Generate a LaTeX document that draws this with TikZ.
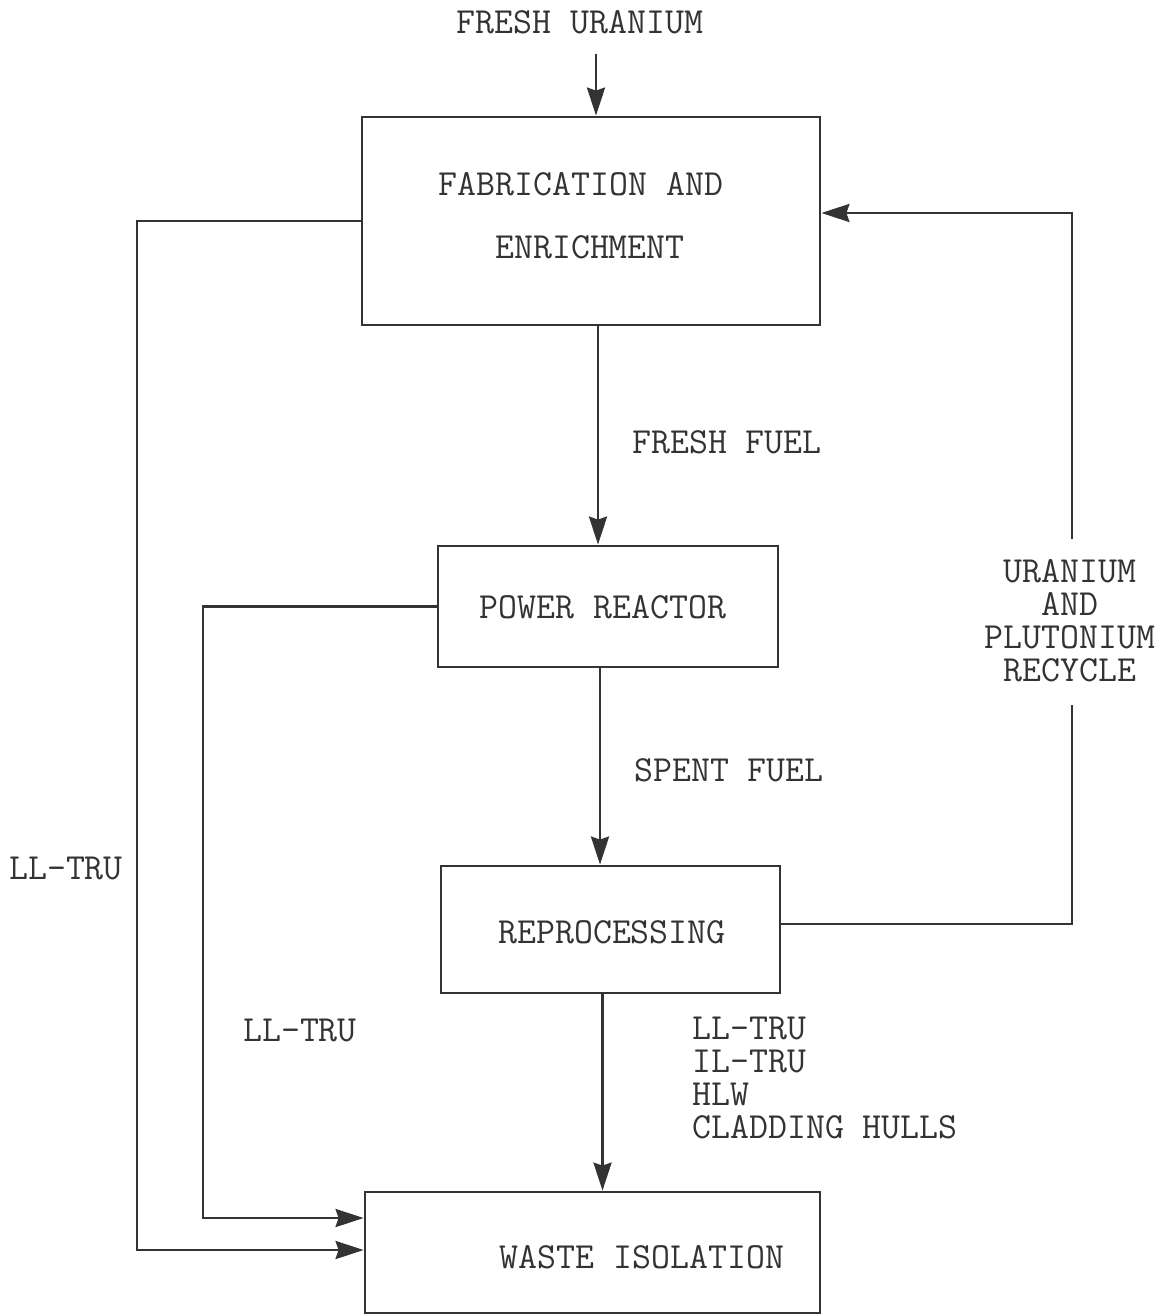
\documentclass[tikz,border=0pt]{standalone}
\usepackage{fontspec}
\usepackage{tikz}
\usetikzlibrary{arrows.meta,positioning,calc}
\definecolor{ink}{HTML}{333333}

\tikzset{
  box/.style={draw=ink, text=ink, line width=1.4pt, align=center, inner sep=0pt},
  lbl/.style={text=ink, align=center, inner sep=1pt},
  wire/.style={draw=ink, line width=1.4pt},
  flow/.style={wire, -{Stealth[length=14pt,width=9pt,inset=1.5pt]}}
}

\begin{document}
\begin{tikzpicture}[x=0.5pt,y=-0.5pt,font=\ttfamily\fontsize{18.4}{16.5}\selectfont]
  \useasboundingbox (0,0) rectangle (1161,1315);
  % boxes
  \node[box, minimum width=229pt, minimum height=104pt] (fab) at (591,221) {};
  \node[lbl] (fabtxt) at (581,216) {FABRICATION AND\\[15pt]\hspace*{9pt}ENRICHMENT};
  \node[box, minimum width=170pt, minimum height=60.5pt] (reactor) at (608,606.5) {};
  \node[lbl] (reactortxt) at (603,607) {POWER REACTOR};
  \node[box, minimum width=169.5pt, minimum height=63.5pt] (reproc) at (610.5,929.5) {};
  \node[lbl] (reproctxt) at (612,932) {REPROCESSING};
  \node[box, minimum width=227.5pt, minimum height=60.5pt] (waste) at (592.5,1252.5) {};
  \node[lbl] (wastetxt) at (642,1257) {WASTE ISOLATION};
  % labels
  \node[lbl] (uran) at (580,22) {FRESH URANIUM};
  \node[lbl] (fresh) at (727,442) {FRESH FUEL};
  \node[lbl] (spent) at (729,770) {SPENT FUEL};
  \node[lbl] (recyc) at (1070,621) {URANIUM\\AND\\PLUTONIUM\\RECYCLE};
  \node[lbl, anchor=north west, align=left] (wastes) at (690,1015) {LL-TRU\\IL-TRU\\HLW\\CLADDING HULLS};
  \node[lbl] (lltruA) at (66,868) {LL-TRU};
  \node[lbl] (lltruB) at (300,1030) {LL-TRU};
  \coordinate (lf) at (137,1250);
  \coordinate (lr) at (203,1218);
  % main chain
  \draw[flow] ([xshift=2.5pt,yshift=-9pt]uran.south -| fab.north) -- ([xshift=2.5pt]fab.north);
  \draw[flow] ([xshift=3.5pt]fab.south) -- ([xshift=3.5pt]fab.south |- reactor.north);
  \draw[flow] ([xshift=-4pt]reactor.south) -- ([xshift=-4pt]reactor.south |- reproc.north);
  \draw[flow] ([xshift=-4pt]reproc.south) -- ([xshift=-4pt]reproc.south |- waste.north);
  % recycle
  \draw[wire] ([yshift=2.75pt]reproc.east) -| ([xshift=1pt,yshift=-10pt]recyc.south);
  \draw[flow] ([xshift=1pt,yshift=9pt]recyc.north) |- ([yshift=4pt]fab.east);
  % waste streams
  \draw[flow] (fab.west) -| (lf) -- (lf -| waste.west);
  \draw[flow] (reactor.west) -| (lr) -- (lr -| waste.west);
\end{tikzpicture}
\end{document}
